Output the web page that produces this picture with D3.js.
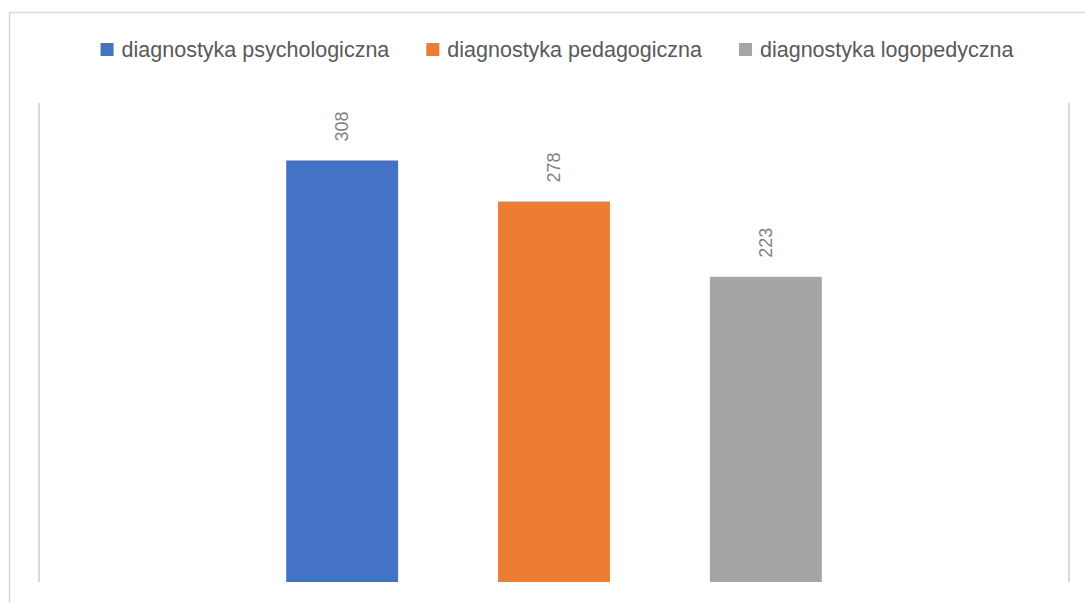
<!DOCTYPE html>
<html>
<head>
<meta charset="utf-8">
<script src="https://cdn.jsdelivr.net/npm/d3@7"></script>
<style>
  body { margin: 0; background: #fff; }
  svg { display: block; font-family: "Liberation Sans", Arial, sans-serif; }
</style>
</head>
<body>
<svg id="chart" width="1085" height="603"></svg>
<script>
// dane wykresu
var categories = [""];
var series = ["diagnostyka psychologiczna", "diagnostyka pedagogiczna", "diagnostyka logopedyczna"];
var values = [308, 278, 223];
var colors = ["#4472c4", "#ed7d31", "#a5a5a5"];
var yDomain = [0, 350];

var svg = d3.select("#chart");

// ramka wykresu
svg.append("rect")
  .attr("x", 9.5).attr("y", 12.5)
  .attr("width", 1100).attr("height", 620)
  .attr("fill", "none")
  .attr("stroke", "#d9d9d9")
  .attr("stroke-width", 1.5);

var plotLeft = 39, plotRight = 1069, plotTop = 103, plotBottom = 582;

var y = d3.scaleLinear().domain(yDomain).range([plotBottom, plotTop]);
var x0 = d3.scaleBand().domain(categories).range([plotLeft, plotRight]);
var bw = x0.bandwidth();
var x1 = d3.scaleBand().domain(series)
  .range([bw * 0.24, bw * 0.76])
  .paddingInner(0.4717);

// linie brzegowe obszaru wykresu
svg.selectAll("line.edge")
  .data([plotLeft, plotRight])
  .enter()
  .append("line")
  .attr("class", "edge")
  .attr("x1", function (d) { return d; })
  .attr("x2", function (d) { return d; })
  .attr("y1", y(yDomain[1]))
  .attr("y2", y(0))
  .attr("stroke", "#d9d9d9")
  .attr("stroke-width", 2);

var data = series.map(function (s, i) { return { s: s, v: values[i], c: colors[i] }; });

var g = svg.append("g").attr("transform", "translate(" + x0(categories[0]) + ",0)");

g.selectAll("rect")
  .data(data)
  .enter()
  .append("rect")
  .attr("x", function (d) { return x1(d.s); })
  .attr("y", function (d) { return y(d.v); })
  .attr("width", x1.bandwidth())
  .attr("height", function (d) { return y(0) - y(d.v); })
  .attr("fill", function (d) { return d.c; });

// etykiety wartości (obrócone)
g.selectAll("text")
  .data(data)
  .enter()
  .append("text")
  .attr("transform", function (d) {
    return "translate(" + (x1(d.s) + x1.bandwidth() / 2 + 6) + "," + (y(d.v) - 19) + ") rotate(-90)";
  })
  .attr("text-anchor", "start")
  .attr("font-size", 18)
  .attr("fill", "#7f7f7f")
  .text(function (d) { return d.v; });

// legenda
var legend = svg.append("g");
var items = legend.selectAll("g")
  .data(data)
  .enter()
  .append("g");
items.append("rect")
  .attr("width", 13).attr("height", 13)
  .attr("y", 43)
  .attr("fill", function (d) { return d.c; });
items.append("text")
  .attr("x", 21)
  .attr("y", 57)
  .attr("font-size", 21.5)
  .attr("fill", "#595959")
  .text(function (d) { return d.s; });

var widths = [];
items.each(function () { widths.push(this.getBBox().width); });
var gap = 37;
var total = d3.sum(widths) + gap * (widths.length - 1);
var pos = 557 - total / 2;
items.attr("transform", function (d, i) {
  var t = "translate(" + pos + ",0)";
  pos += widths[i] + gap;
  return t;
});
</script>
</body>
</html>
